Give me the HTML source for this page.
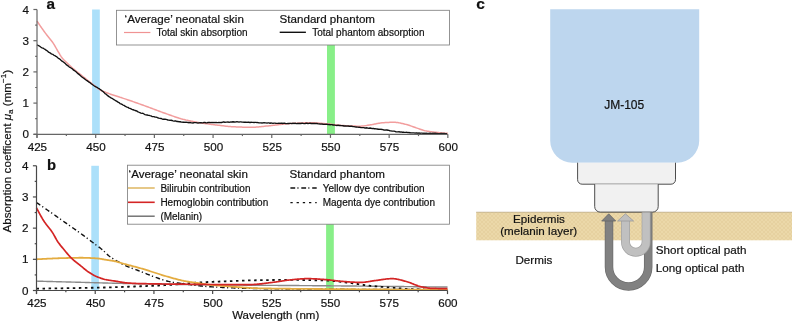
<!DOCTYPE html>
<html><head><meta charset="utf-8"><style>
html,body{margin:0;padding:0;background:#fff;width:793px;height:322px;overflow:hidden}
svg{display:block;filter:blur(0.3px)}
text{font-family:"Liberation Sans",sans-serif;stroke:#111;stroke-width:0.2px}
</style></head><body>
<svg width="793" height="322" viewBox="0 0 793 322">
<defs>
<pattern id="skin" width="4" height="4" patternUnits="userSpaceOnUse">
<rect width="4" height="4" fill="#ebd8a9"/>
<path d="M0,0 L4,4 M4,0 L0,4" stroke="#e2cd9b" stroke-width="0.6"/>
</pattern>
</defs>
<rect x="92.10" y="9.50" width="7.7" height="124.80" fill="#ace0fa"/>
<rect x="327.00" y="20.00" width="7.9" height="114.30" fill="#88ef88"/>
<path d="M37.00,21.04 L37.80,22.27 L38.60,23.48 L39.40,24.67 L40.20,25.85 L41.00,27.01 L41.80,28.16 L42.60,29.30 L43.40,30.42 L44.20,31.53 L45.00,32.61 L45.80,33.66 L46.60,34.68 L47.40,35.68 L48.20,36.67 L49.00,37.67 L49.80,38.68 L50.60,39.71 L51.40,40.73 L52.20,41.77 L53.00,42.88 L53.80,44.07 L54.60,45.39 L55.40,46.79 L56.20,48.24 L57.00,49.68 L57.80,51.07 L58.60,52.40 L59.40,53.74 L60.20,55.06 L61.00,56.31 L61.80,57.45 L62.60,58.44 L63.40,59.35 L64.20,60.19 L65.00,60.98 L65.80,61.74 L66.60,62.47 L67.40,63.21 L68.20,63.95 L69.00,64.70 L69.80,65.47 L70.60,66.23 L71.40,66.98 L72.20,67.72 L73.00,68.45 L73.80,69.16 L74.60,69.86 L75.40,70.53 L76.20,71.18 L77.00,71.81 L77.80,72.43 L78.60,73.05 L79.40,73.66 L80.20,74.28 L81.00,74.91 L81.80,75.56 L82.60,76.21 L83.40,76.87 L84.20,77.53 L85.00,78.19 L85.80,78.85 L86.60,79.50 L87.40,80.14 L88.20,80.77 L89.00,81.40 L89.80,82.02 L90.60,82.64 L91.40,83.26 L92.20,83.88 L93.00,84.50 L93.80,85.12 L94.60,85.76 L95.40,86.43 L96.20,87.11 L97.00,87.78 L97.80,88.42 L98.60,88.99 L99.40,89.48 L100.20,89.91 L101.00,90.32 L101.80,90.71 L102.60,91.07 L103.40,91.41 L104.20,91.74 L105.00,92.06 L105.80,92.37 L106.60,92.67 L107.40,92.97 L108.20,93.27 L109.00,93.58 L109.80,93.88 L110.60,94.17 L111.40,94.45 L112.20,94.73 L113.00,95.01 L113.80,95.28 L114.60,95.54 L115.40,95.80 L116.20,96.06 L117.00,96.32 L117.80,96.58 L118.60,96.83 L119.40,97.08 L120.20,97.34 L121.00,97.59 L121.80,97.84 L122.60,98.10 L123.40,98.35 L124.20,98.61 L125.00,98.87 L125.80,99.13 L126.60,99.40 L127.40,99.67 L128.20,99.95 L129.00,100.22 L129.80,100.50 L130.60,100.78 L131.40,101.05 L132.20,101.33 L133.00,101.61 L133.80,101.89 L134.60,102.17 L135.40,102.45 L136.20,102.74 L137.00,103.02 L137.80,103.30 L138.60,103.59 L139.40,103.87 L140.20,104.16 L141.00,104.44 L141.80,104.73 L142.60,105.02 L143.40,105.31 L144.20,105.59 L145.00,105.88 L145.80,106.17 L146.60,106.46 L147.40,106.75 L148.20,107.05 L149.00,107.35 L149.80,107.64 L150.60,107.94 L151.40,108.24 L152.20,108.54 L153.00,108.85 L153.80,109.15 L154.60,109.45 L155.40,109.75 L156.20,110.05 L157.00,110.35 L157.80,110.65 L158.60,110.95 L159.40,111.25 L160.20,111.54 L161.00,111.84 L161.80,112.13 L162.60,112.42 L163.40,112.70 L164.20,112.99 L165.00,113.27 L165.80,113.55 L166.60,113.84 L167.40,114.12 L168.20,114.41 L169.00,114.70 L169.80,114.99 L170.60,115.27 L171.40,115.56 L172.20,115.84 L173.00,116.13 L173.80,116.41 L174.60,116.68 L175.40,116.96 L176.20,117.23 L177.00,117.49 L177.80,117.75 L178.60,118.00 L179.40,118.25 L180.20,118.48 L181.00,118.72 L181.80,118.94 L182.60,119.15 L183.40,119.36 L184.20,119.56 L185.00,119.75 L185.80,119.95 L186.60,120.13 L187.40,120.32 L188.20,120.50 L189.00,120.68 L189.80,120.85 L190.60,121.02 L191.40,121.18 L192.20,121.35 L193.00,121.51 L193.80,121.66 L194.60,121.82 L195.40,121.97 L196.20,122.11 L197.00,122.26 L197.80,122.40 L198.60,122.53 L199.40,122.67 L200.20,122.80 L201.00,122.93 L201.80,123.06 L202.60,123.18 L203.40,123.30 L204.20,123.42 L205.00,123.54 L205.80,123.66 L206.60,123.77 L207.40,123.88 L208.20,123.99 L209.00,124.10 L209.80,124.20 L210.60,124.31 L211.40,124.41 L212.20,124.51 L213.00,124.61 L213.80,124.71 L214.60,124.81 L215.40,124.90 L216.20,125.00 L217.00,125.09 L217.80,125.18 L218.60,125.28 L219.40,125.37 L220.20,125.47 L221.00,125.57 L221.80,125.66 L222.60,125.76 L223.40,125.85 L224.20,125.95 L225.00,126.04 L225.80,126.13 L226.60,126.21 L227.40,126.30 L228.20,126.38 L229.00,126.45 L229.80,126.52 L230.60,126.59 L231.40,126.65 L232.20,126.70 L233.00,126.75 L233.80,126.79 L234.60,126.83 L235.40,126.86 L236.20,126.90 L237.00,126.93 L237.80,126.96 L238.60,126.99 L239.40,127.03 L240.20,127.05 L241.00,127.08 L241.80,127.11 L242.60,127.14 L243.40,127.16 L244.20,127.18 L245.00,127.20 L245.80,127.22 L246.60,127.24 L247.40,127.25 L248.20,127.26 L249.00,127.27 L249.80,127.28 L250.60,127.28 L251.40,127.28 L252.20,127.27 L253.00,127.25 L253.80,127.22 L254.60,127.18 L255.40,127.14 L256.20,127.08 L257.00,127.02 L257.80,126.96 L258.60,126.88 L259.40,126.81 L260.20,126.73 L261.00,126.64 L261.80,126.56 L262.60,126.47 L263.40,126.38 L264.20,126.30 L265.00,126.21 L265.80,126.12 L266.60,126.04 L267.40,125.96 L268.20,125.88 L269.00,125.80 L269.80,125.72 L270.60,125.64 L271.40,125.55 L272.20,125.46 L273.00,125.37 L273.80,125.28 L274.60,125.18 L275.40,125.09 L276.20,124.99 L277.00,124.90 L277.80,124.80 L278.60,124.71 L279.40,124.61 L280.20,124.52 L281.00,124.43 L281.80,124.34 L282.60,124.26 L283.40,124.17 L284.20,124.09 L285.00,124.02 L285.80,123.94 L286.60,123.87 L287.40,123.80 L288.20,123.73 L289.00,123.66 L289.80,123.59 L290.60,123.53 L291.40,123.47 L292.20,123.42 L293.00,123.37 L293.80,123.33 L294.60,123.29 L295.40,123.25 L296.20,123.21 L297.00,123.17 L297.80,123.13 L298.60,123.09 L299.40,123.05 L300.20,123.02 L301.00,122.98 L301.80,122.95 L302.60,122.92 L303.40,122.89 L304.20,122.86 L305.00,122.84 L305.80,122.82 L306.60,122.80 L307.40,122.78 L308.20,122.77 L309.00,122.76 L309.80,122.76 L310.60,122.76 L311.40,122.76 L312.20,122.78 L313.00,122.80 L313.80,122.82 L314.60,122.86 L315.40,122.90 L316.20,122.95 L317.00,123.00 L317.80,123.05 L318.60,123.11 L319.40,123.17 L320.20,123.24 L321.00,123.30 L321.80,123.37 L322.60,123.43 L323.40,123.50 L324.20,123.57 L325.00,123.63 L325.80,123.69 L326.60,123.76 L327.40,123.83 L328.20,123.91 L329.00,124.00 L329.80,124.09 L330.60,124.18 L331.40,124.28 L332.20,124.38 L333.00,124.48 L333.80,124.58 L334.60,124.68 L335.40,124.78 L336.20,124.88 L337.00,124.98 L337.80,125.07 L338.60,125.16 L339.40,125.24 L340.20,125.32 L341.00,125.39 L341.80,125.46 L342.60,125.52 L343.40,125.57 L344.20,125.61 L345.00,125.65 L345.80,125.70 L346.60,125.74 L347.40,125.78 L348.20,125.82 L349.00,125.87 L349.80,125.90 L350.60,125.94 L351.40,125.98 L352.20,126.01 L353.00,126.04 L353.80,126.07 L354.60,126.10 L355.40,126.12 L356.20,126.14 L357.00,126.16 L357.80,126.17 L358.60,126.18 L359.40,126.19 L360.20,126.19 L361.00,126.17 L361.80,126.12 L362.60,126.06 L363.40,125.97 L364.20,125.87 L365.00,125.75 L365.80,125.62 L366.60,125.49 L367.40,125.34 L368.20,125.20 L369.00,125.05 L369.80,124.91 L370.60,124.78 L371.40,124.65 L372.20,124.53 L373.00,124.39 L373.80,124.24 L374.60,124.09 L375.40,123.93 L376.20,123.77 L377.00,123.61 L377.80,123.46 L378.60,123.31 L379.40,123.17 L380.20,123.04 L381.00,122.93 L381.80,122.84 L382.60,122.77 L383.40,122.72 L384.20,122.67 L385.00,122.62 L385.80,122.57 L386.60,122.52 L387.40,122.48 L388.20,122.44 L389.00,122.40 L389.80,122.37 L390.60,122.35 L391.40,122.32 L392.20,122.31 L393.00,122.29 L393.80,122.29 L394.60,122.29 L395.40,122.33 L396.20,122.40 L397.00,122.49 L397.80,122.60 L398.60,122.73 L399.40,122.88 L400.20,123.05 L401.00,123.22 L401.80,123.41 L402.60,123.60 L403.40,123.79 L404.20,123.99 L405.00,124.18 L405.80,124.37 L406.60,124.57 L407.40,124.79 L408.20,125.03 L409.00,125.29 L409.80,125.56 L410.60,125.84 L411.40,126.12 L412.20,126.41 L413.00,126.71 L413.80,127.00 L414.60,127.29 L415.40,127.57 L416.20,127.84 L417.00,128.11 L417.80,128.37 L418.60,128.65 L419.40,128.93 L420.20,129.22 L421.00,129.50 L421.80,129.77 L422.60,130.03 L423.40,130.28 L424.20,130.50 L425.00,130.70 L425.80,130.87 L426.60,131.02 L427.40,131.16 L428.20,131.29 L429.00,131.42 L429.80,131.54 L430.60,131.65 L431.40,131.75 L432.20,131.86 L433.00,131.95 L433.80,132.05 L434.60,132.14 L435.40,132.23 L436.20,132.31 L437.00,132.40 L437.80,132.48 L438.60,132.57 L439.40,132.65 L440.20,132.73 L441.00,132.80 L441.80,132.88 L442.60,132.95 L443.40,133.02 L444.20,133.09 L445.00,133.16 L445.80,133.22 L446.60,133.28 L447.40,133.33 L447.85,133.36" fill="none" stroke="#f29d9d" stroke-width="1.5"/>
<path d="M37.00,44.78 L38.00,45.41 L39.00,45.77 L40.00,46.46 L41.00,47.25 L42.00,47.85 L43.00,48.08 L44.00,48.76 L45.00,49.35 L46.00,50.23 L47.00,50.71 L48.00,51.60 L49.00,52.36 L50.00,52.81 L51.00,53.61 L52.00,54.14 L53.00,54.42 L54.00,55.26 L55.00,55.70 L56.00,56.40 L57.00,57.02 L58.00,57.96 L59.00,58.60 L60.00,59.25 L61.00,60.24 L62.00,61.15 L63.00,61.70 L64.00,62.44 L65.00,63.32 L66.00,64.38 L67.00,65.19 L68.00,65.83 L69.00,66.72 L70.00,67.46 L71.00,67.98 L72.00,68.59 L73.00,69.64 L74.00,70.36 L75.00,71.06 L76.00,71.81 L77.00,72.74 L78.00,73.63 L79.00,74.38 L80.00,75.23 L81.00,76.14 L82.00,77.14 L83.00,77.79 L84.00,78.41 L85.00,79.17 L86.00,80.01 L87.00,80.63 L88.00,81.35 L89.00,82.22 L90.00,82.71 L91.00,83.60 L92.00,84.21 L93.00,85.05 L94.00,85.72 L95.00,86.31 L96.00,86.90 L97.00,87.31 L98.00,88.05 L99.00,88.52 L100.00,89.34 L101.00,89.97 L102.00,90.83 L103.00,91.47 L104.00,92.41 L105.00,93.62 L106.00,94.09 L107.00,95.13 L108.00,95.87 L109.00,96.62 L110.00,97.19 L111.00,97.92 L112.00,98.31 L113.00,98.95 L114.00,99.63 L115.00,100.22 L116.00,100.80 L117.00,101.40 L118.00,102.19 L119.00,102.58 L120.00,103.53 L121.00,103.95 L122.00,104.43 L123.00,105.05 L124.00,105.35 L125.00,106.19 L126.00,106.65 L127.00,107.08 L128.00,107.44 L129.00,108.08 L130.00,108.48 L131.00,108.88 L132.00,109.44 L133.00,109.73 L134.00,110.01 L135.00,110.52 L136.00,110.75 L137.00,111.15 L138.00,111.82 L139.00,112.25 L140.00,112.74 L141.00,113.06 L142.00,113.29 L143.00,113.44 L144.00,113.99 L145.00,114.55 L146.00,114.81 L147.00,114.97 L148.00,115.25 L149.00,115.41 L150.00,115.67 L151.00,115.88 L152.00,116.55 L153.00,116.68 L154.00,116.69 L155.00,117.07 L156.00,117.14 L157.00,117.47 L158.00,117.98 L159.00,118.19 L160.00,118.34 L161.00,118.47 L162.00,118.88 L163.00,119.25 L164.00,119.20 L165.00,119.21 L166.00,119.39 L167.00,119.58 L168.00,120.19 L169.00,120.15 L170.00,120.46 L171.00,120.28 L172.00,120.48 L173.00,120.85 L174.00,121.10 L175.00,120.97 L176.00,120.99 L177.00,121.54 L178.00,121.40 L179.00,121.77 L180.00,121.61 L181.00,122.00 L182.00,122.19 L183.00,122.22 L184.00,122.12 L185.00,122.39 L186.00,122.17 L187.00,122.34 L188.00,122.46 L189.00,122.76 L190.00,122.45 L191.00,122.87 L192.00,122.87 L193.00,122.98 L194.00,122.69 L195.00,122.61 L196.00,122.62 L197.00,122.91 L198.00,122.98 L199.00,122.84 L200.00,122.72 L201.00,122.61 L202.00,122.87 L203.00,122.88 L204.00,122.47 L205.00,122.52 L206.00,122.81 L207.00,122.81 L208.00,122.52 L209.00,122.49 L210.00,122.54 L211.00,122.58 L212.00,122.34 L213.00,122.69 L214.00,122.52 L215.00,122.62 L216.00,122.33 L217.00,122.68 L218.00,122.55 L219.00,122.32 L220.00,122.59 L221.00,122.44 L222.00,122.47 L223.00,122.04 L224.00,122.01 L225.00,122.32 L226.00,122.06 L227.00,122.13 L228.00,121.92 L229.00,122.30 L230.00,122.03 L231.00,122.17 L232.00,121.78 L233.00,121.97 L234.00,121.76 L235.00,122.17 L236.00,121.96 L237.00,121.78 L238.00,121.80 L239.00,122.06 L240.00,121.85 L241.00,121.93 L242.00,122.09 L243.00,122.15 L244.00,122.23 L245.00,122.29 L246.00,122.20 L247.00,122.36 L248.00,122.17 L249.00,122.26 L250.00,122.56 L251.00,122.27 L252.00,122.33 L253.00,122.38 L254.00,122.53 L255.00,122.33 L256.00,122.39 L257.00,122.64 L258.00,122.53 L259.00,122.83 L260.00,122.93 L261.00,122.86 L262.00,122.96 L263.00,122.85 L264.00,122.71 L265.00,122.94 L266.00,122.94 L267.00,123.08 L268.00,122.88 L269.00,122.95 L270.00,123.27 L271.00,123.02 L272.00,123.12 L273.00,123.41 L274.00,123.10 L275.00,123.06 L276.00,123.36 L277.00,123.32 L278.00,123.36 L279.00,123.09 L280.00,123.30 L281.00,123.10 L282.00,123.24 L283.00,123.47 L284.00,123.16 L285.00,123.28 L286.00,123.62 L287.00,123.62 L288.00,123.37 L289.00,123.50 L290.00,123.45 L291.00,123.36 L292.00,123.56 L293.00,123.22 L294.00,123.54 L295.00,123.15 L296.00,123.56 L297.00,123.47 L298.00,123.35 L299.00,123.47 L300.00,123.36 L301.00,123.52 L302.00,123.19 L303.00,123.38 L304.00,123.57 L305.00,123.59 L306.00,123.24 L307.00,123.26 L308.00,123.58 L309.00,123.30 L310.00,123.16 L311.00,123.49 L312.00,123.35 L313.00,123.53 L314.00,123.44 L315.00,123.49 L316.00,123.50 L317.00,123.49 L318.00,123.86 L319.00,123.82 L320.00,123.96 L321.00,124.09 L322.00,123.85 L323.00,124.28 L324.00,124.34 L325.00,124.25 L326.00,124.38 L327.00,124.24 L328.00,124.66 L329.00,124.46 L330.00,124.73 L331.00,124.61 L332.00,124.66 L333.00,125.01 L334.00,125.03 L335.00,125.20 L336.00,125.33 L337.00,125.51 L338.00,125.14 L339.00,125.49 L340.00,125.54 L341.00,125.66 L342.00,125.69 L343.00,125.78 L344.00,126.02 L345.00,125.89 L346.00,126.02 L347.00,126.19 L348.00,125.97 L349.00,126.23 L350.00,126.16 L351.00,126.26 L352.00,126.29 L353.00,126.49 L354.00,126.59 L355.00,126.84 L356.00,126.97 L357.00,127.20 L358.00,127.13 L359.00,127.44 L360.00,127.29 L361.00,127.56 L362.00,127.56 L363.00,127.68 L364.00,127.59 L365.00,128.01 L366.00,128.01 L367.00,127.78 L368.00,128.07 L369.00,128.38 L370.00,128.00 L371.00,128.22 L372.00,128.54 L373.00,128.29 L374.00,128.74 L375.00,128.76 L376.00,128.94 L377.00,128.96 L378.00,129.26 L379.00,129.08 L380.00,129.31 L381.00,129.17 L382.00,129.54 L383.00,129.60 L384.00,130.02 L385.00,130.15 L386.00,129.91 L387.00,130.02 L388.00,130.23 L389.00,130.43 L390.00,130.86 L391.00,130.93 L392.00,131.08 L393.00,131.18 L394.00,131.08 L395.00,131.39 L396.00,131.80 L397.00,131.82 L398.00,131.80 L399.00,131.72 L400.00,132.18 L401.00,132.02 L402.00,132.21 L403.00,132.08 L404.00,132.22 L405.00,132.31 L406.00,132.40 L407.00,132.29 L408.00,132.68 L409.00,132.50 L410.00,132.78 L411.00,132.85 L412.00,132.95 L413.00,132.80 L414.00,132.84 L415.00,133.12 L416.00,132.97 L417.00,132.88 L418.00,133.28 L419.00,132.86 L420.00,133.32 L421.00,133.05 L422.00,133.12 L423.00,133.44 L424.00,133.19 L425.00,133.36 L426.00,133.22 L427.00,133.50 L428.00,133.42 L429.00,133.32 L430.00,133.14 L431.00,133.30 L432.00,133.38 L433.00,133.29 L434.00,133.43 L435.00,133.28 L436.00,133.44 L437.00,133.47 L438.00,133.55 L439.00,133.60 L440.00,133.60 L441.00,133.45 L442.00,133.48 L443.00,133.69 L444.00,133.44 L445.00,133.63 L446.00,133.76 L447.00,133.73" fill="none" stroke="#111" stroke-width="1.35" stroke-linejoin="round"/>
<g stroke="#666" stroke-width="1.2"><line x1="37.00" y1="9.50" x2="37.00" y2="137.80"/>
<line x1="33.50" y1="134.30" x2="447.85" y2="134.30"/>
<line x1="33.40" y1="134.30" x2="37.00" y2="134.30"/>
<line x1="35.20" y1="118.70" x2="37.00" y2="118.70"/>
<line x1="33.40" y1="103.10" x2="37.00" y2="103.10"/>
<line x1="35.20" y1="87.50" x2="37.00" y2="87.50"/>
<line x1="33.40" y1="71.90" x2="37.00" y2="71.90"/>
<line x1="35.20" y1="56.30" x2="37.00" y2="56.30"/>
<line x1="33.40" y1="40.70" x2="37.00" y2="40.70"/>
<line x1="35.20" y1="25.10" x2="37.00" y2="25.10"/>
<line x1="33.40" y1="9.50" x2="37.00" y2="9.50"/>
<line x1="37.00" y1="134.30" x2="37.00" y2="137.90"/>
<line x1="66.35" y1="134.30" x2="66.35" y2="136.10"/>
<line x1="95.69" y1="134.30" x2="95.69" y2="137.90"/>
<line x1="125.04" y1="134.30" x2="125.04" y2="136.10"/>
<line x1="154.38" y1="134.30" x2="154.38" y2="137.90"/>
<line x1="183.73" y1="134.30" x2="183.73" y2="136.10"/>
<line x1="213.08" y1="134.30" x2="213.08" y2="137.90"/>
<line x1="242.42" y1="134.30" x2="242.42" y2="136.10"/>
<line x1="271.77" y1="134.30" x2="271.77" y2="137.90"/>
<line x1="301.12" y1="134.30" x2="301.12" y2="136.10"/>
<line x1="330.46" y1="134.30" x2="330.46" y2="137.90"/>
<line x1="359.81" y1="134.30" x2="359.81" y2="136.10"/>
<line x1="389.16" y1="134.30" x2="389.16" y2="137.90"/>
<line x1="418.50" y1="134.30" x2="418.50" y2="136.10"/>
<line x1="447.85" y1="134.30" x2="447.85" y2="137.90"/></g>
<rect x="91.30" y="165.78" width="7.6" height="124.72" fill="#ace0fa"/>
<rect x="326.10" y="165.78" width="7.7" height="124.72" fill="#88ef88"/>
<path d="M36.50,281.15 L37.30,281.17 L38.10,281.19 L38.90,281.21 L39.70,281.23 L40.50,281.25 L41.30,281.28 L42.10,281.30 L42.90,281.32 L43.70,281.34 L44.50,281.36 L45.30,281.38 L46.10,281.40 L46.90,281.43 L47.70,281.45 L48.50,281.47 L49.30,281.49 L50.11,281.51 L50.91,281.53 L51.71,281.55 L52.51,281.57 L53.31,281.60 L54.11,281.62 L54.91,281.64 L55.71,281.66 L56.51,281.68 L57.31,281.70 L58.11,281.72 L58.91,281.74 L59.71,281.77 L60.51,281.79 L61.31,281.81 L62.11,281.83 L62.91,281.85 L63.71,281.87 L64.51,281.89 L65.31,281.91 L66.11,281.93 L66.91,281.96 L67.71,281.98 L68.51,282.00 L69.31,282.02 L70.11,282.04 L70.91,282.06 L71.71,282.08 L72.51,282.10 L73.31,282.12 L74.11,282.14 L74.91,282.17 L75.72,282.19 L76.52,282.21 L77.32,282.23 L78.12,282.25 L78.92,282.27 L79.72,282.29 L80.52,282.32 L81.32,282.34 L82.12,282.36 L82.92,282.38 L83.72,282.40 L84.52,282.42 L85.32,282.45 L86.12,282.47 L86.92,282.49 L87.72,282.51 L88.52,282.53 L89.32,282.56 L90.12,282.58 L90.92,282.60 L91.72,282.62 L92.52,282.64 L93.32,282.67 L94.12,282.69 L94.92,282.71 L95.72,282.73 L96.52,282.75 L97.32,282.78 L98.12,282.80 L98.92,282.82 L99.72,282.84 L100.52,282.86 L101.32,282.89 L102.13,282.91 L102.93,282.93 L103.73,282.95 L104.53,282.97 L105.33,282.99 L106.13,283.01 L106.93,283.03 L107.73,283.06 L108.53,283.08 L109.33,283.10 L110.13,283.12 L110.93,283.14 L111.73,283.16 L112.53,283.18 L113.33,283.20 L114.13,283.22 L114.93,283.24 L115.73,283.26 L116.53,283.28 L117.33,283.30 L118.13,283.32 L118.93,283.34 L119.73,283.36 L120.53,283.37 L121.33,283.39 L122.13,283.41 L122.93,283.43 L123.73,283.45 L124.53,283.47 L125.33,283.48 L126.13,283.50 L126.93,283.52 L127.73,283.54 L128.54,283.55 L129.34,283.57 L130.14,283.59 L130.94,283.60 L131.74,283.62 L132.54,283.64 L133.34,283.65 L134.14,283.67 L134.94,283.68 L135.74,283.70 L136.54,283.71 L137.34,283.73 L138.14,283.74 L138.94,283.76 L139.74,283.77 L140.54,283.79 L141.34,283.80 L142.14,283.82 L142.94,283.84 L143.74,283.85 L144.54,283.86 L145.34,283.88 L146.14,283.89 L146.94,283.91 L147.74,283.92 L148.54,283.94 L149.34,283.95 L150.14,283.97 L150.94,283.98 L151.74,284.00 L152.54,284.01 L153.34,284.03 L154.15,284.04 L154.95,284.05 L155.75,284.07 L156.55,284.08 L157.35,284.10 L158.15,284.11 L158.95,284.12 L159.75,284.14 L160.55,284.15 L161.35,284.16 L162.15,284.18 L162.95,284.19 L163.75,284.21 L164.55,284.22 L165.35,284.23 L166.15,284.25 L166.95,284.26 L167.75,284.27 L168.55,284.29 L169.35,284.30 L170.15,284.31 L170.95,284.32 L171.75,284.34 L172.55,284.35 L173.35,284.36 L174.15,284.37 L174.95,284.39 L175.75,284.40 L176.55,284.41 L177.35,284.42 L178.15,284.44 L178.95,284.45 L179.75,284.46 L180.56,284.47 L181.36,284.48 L182.16,284.50 L182.96,284.51 L183.76,284.52 L184.56,284.53 L185.36,284.54 L186.16,284.55 L186.96,284.57 L187.76,284.58 L188.56,284.59 L189.36,284.60 L190.16,284.61 L190.96,284.62 L191.76,284.63 L192.56,284.64 L193.36,284.65 L194.16,284.66 L194.96,284.68 L195.76,284.69 L196.56,284.70 L197.36,284.71 L198.16,284.72 L198.96,284.73 L199.76,284.74 L200.56,284.75 L201.36,284.76 L202.16,284.77 L202.96,284.78 L203.76,284.79 L204.56,284.80 L205.36,284.81 L206.17,284.81 L206.97,284.82 L207.77,284.83 L208.57,284.84 L209.37,284.85 L210.17,284.86 L210.97,284.87 L211.77,284.88 L212.57,284.89 L213.37,284.90 L214.17,284.90 L214.97,284.91 L215.77,284.92 L216.57,284.93 L217.37,284.94 L218.17,284.95 L218.97,284.95 L219.77,284.96 L220.57,284.97 L221.37,284.98 L222.17,284.99 L222.97,284.99 L223.77,285.00 L224.57,285.01 L225.37,285.02 L226.17,285.02 L226.97,285.03 L227.77,285.04 L228.57,285.05 L229.37,285.05 L230.17,285.06 L230.97,285.07 L231.77,285.07 L232.58,285.08 L233.38,285.09 L234.18,285.10 L234.98,285.10 L235.78,285.11 L236.58,285.12 L237.38,285.12 L238.18,285.13 L238.98,285.14 L239.78,285.14 L240.58,285.15 L241.38,285.16 L242.18,285.16 L242.98,285.17 L243.78,285.18 L244.58,285.18 L245.38,285.19 L246.18,285.19 L246.98,285.20 L247.78,285.21 L248.58,285.21 L249.38,285.22 L250.18,285.23 L250.98,285.23 L251.78,285.24 L252.58,285.24 L253.38,285.25 L254.18,285.26 L254.98,285.26 L255.78,285.27 L256.58,285.27 L257.38,285.28 L258.18,285.29 L258.99,285.29 L259.79,285.30 L260.59,285.30 L261.39,285.31 L262.19,285.31 L262.99,285.32 L263.79,285.33 L264.59,285.33 L265.39,285.34 L266.19,285.34 L266.99,285.35 L267.79,285.35 L268.59,285.36 L269.39,285.37 L270.19,285.37 L270.99,285.38 L271.79,285.38 L272.59,285.39 L273.39,285.39 L274.19,285.40 L274.99,285.41 L275.79,285.41 L276.59,285.42 L277.39,285.42 L278.19,285.43 L278.99,285.43 L279.79,285.44 L280.59,285.44 L281.39,285.45 L282.19,285.45 L282.99,285.46 L283.79,285.47 L284.60,285.47 L285.40,285.48 L286.20,285.48 L287.00,285.49 L287.80,285.49 L288.60,285.50 L289.40,285.51 L290.20,285.51 L291.00,285.52 L291.80,285.52 L292.60,285.53 L293.40,285.53 L294.20,285.54 L295.00,285.54 L295.80,285.55 L296.60,285.56 L297.40,285.56 L298.20,285.57 L299.00,285.57 L299.80,285.58 L300.60,285.58 L301.40,285.59 L302.20,285.60 L303.00,285.60 L303.80,285.61 L304.60,285.61 L305.40,285.62 L306.20,285.63 L307.00,285.63 L307.80,285.64 L308.60,285.64 L309.40,285.65 L310.20,285.66 L311.01,285.66 L311.81,285.67 L312.61,285.68 L313.41,285.68 L314.21,285.69 L315.01,285.69 L315.81,285.70 L316.61,285.71 L317.41,285.71 L318.21,285.72 L319.01,285.73 L319.81,285.73 L320.61,285.74 L321.41,285.75 L322.21,285.75 L323.01,285.76 L323.81,285.77 L324.61,285.77 L325.41,285.78 L326.21,285.79 L327.01,285.80 L327.81,285.80 L328.61,285.81 L329.41,285.82 L330.21,285.82 L331.01,285.83 L331.81,285.84 L332.61,285.85 L333.41,285.85 L334.21,285.86 L335.01,285.87 L335.81,285.88 L336.62,285.88 L337.42,285.89 L338.22,285.90 L339.02,285.91 L339.82,285.91 L340.62,285.92 L341.42,285.93 L342.22,285.94 L343.02,285.94 L343.82,285.95 L344.62,285.96 L345.42,285.97 L346.22,285.97 L347.02,285.98 L347.82,285.99 L348.62,286.00 L349.42,286.00 L350.22,286.01 L351.02,286.02 L351.82,286.03 L352.62,286.04 L353.42,286.04 L354.22,286.05 L355.02,286.06 L355.82,286.07 L356.62,286.07 L357.42,286.08 L358.22,286.09 L359.02,286.10 L359.82,286.11 L360.62,286.11 L361.42,286.12 L362.22,286.13 L363.03,286.14 L363.83,286.15 L364.63,286.15 L365.43,286.16 L366.23,286.17 L367.03,286.18 L367.83,286.19 L368.63,286.19 L369.43,286.20 L370.23,286.21 L371.03,286.22 L371.83,286.23 L372.63,286.24 L373.43,286.24 L374.23,286.25 L375.03,286.26 L375.83,286.27 L376.63,286.28 L377.43,286.29 L378.23,286.29 L379.03,286.30 L379.83,286.31 L380.63,286.32 L381.43,286.33 L382.23,286.34 L383.03,286.34 L383.83,286.35 L384.63,286.36 L385.43,286.37 L386.23,286.38 L387.03,286.39 L387.83,286.39 L388.63,286.40 L389.44,286.41 L390.24,286.42 L391.04,286.43 L391.84,286.44 L392.64,286.45 L393.44,286.45 L394.24,286.46 L395.04,286.47 L395.84,286.48 L396.64,286.49 L397.44,286.50 L398.24,286.51 L399.04,286.52 L399.84,286.52 L400.64,286.53 L401.44,286.54 L402.24,286.55 L403.04,286.56 L403.84,286.57 L404.64,286.58 L405.44,286.59 L406.24,286.59 L407.04,286.60 L407.84,286.61 L408.64,286.62 L409.44,286.63 L410.24,286.64 L411.04,286.65 L411.84,286.66 L412.64,286.67 L413.44,286.68 L414.24,286.68 L415.05,286.69 L415.85,286.70 L416.65,286.71 L417.45,286.72 L418.25,286.73 L419.05,286.74 L419.85,286.75 L420.65,286.76 L421.45,286.77 L422.25,286.77 L423.05,286.78 L423.85,286.79 L424.65,286.80 L425.45,286.81 L426.25,286.82 L427.05,286.83 L427.85,286.84 L428.65,286.85 L429.45,286.86 L430.25,286.87 L431.05,286.88 L431.85,286.89 L432.65,286.89 L433.45,286.90 L434.25,286.91 L435.05,286.92 L435.85,286.93 L436.65,286.94 L437.45,286.95 L438.25,286.96 L439.05,286.97 L439.85,286.98 L440.65,286.99 L441.46,287.00 L442.26,287.01 L443.06,287.02 L443.86,287.03 L444.66,287.04 L445.46,287.05 L446.26,287.06 L447.06,287.06 L447.50,287.07" fill="none" stroke="#8a8a8a" stroke-width="1.4"/>
<path d="M36.50,288.63 L37.30,288.62 L38.10,288.61 L38.90,288.60 L39.70,288.59 L40.50,288.58 L41.30,288.57 L42.10,288.56 L42.90,288.55 L43.70,288.54 L44.50,288.53 L45.30,288.52 L46.10,288.51 L46.90,288.50 L47.70,288.49 L48.50,288.48 L49.30,288.47 L50.11,288.46 L50.91,288.45 L51.71,288.44 L52.51,288.43 L53.31,288.42 L54.11,288.40 L54.91,288.39 L55.71,288.38 L56.51,288.37 L57.31,288.36 L58.11,288.34 L58.91,288.33 L59.71,288.32 L60.51,288.31 L61.31,288.29 L62.11,288.28 L62.91,288.27 L63.71,288.26 L64.51,288.24 L65.31,288.23 L66.11,288.22 L66.91,288.20 L67.71,288.19 L68.51,288.18 L69.31,288.16 L70.11,288.15 L70.91,288.14 L71.71,288.12 L72.51,288.11 L73.31,288.10 L74.11,288.08 L74.91,288.07 L75.72,288.05 L76.52,288.04 L77.32,288.03 L78.12,288.01 L78.92,288.00 L79.72,287.98 L80.52,287.97 L81.32,287.95 L82.12,287.94 L82.92,287.92 L83.72,287.91 L84.52,287.90 L85.32,287.88 L86.12,287.87 L86.92,287.85 L87.72,287.84 L88.52,287.82 L89.32,287.81 L90.12,287.79 L90.92,287.78 L91.72,287.76 L92.52,287.75 L93.32,287.73 L94.12,287.71 L94.92,287.70 L95.72,287.68 L96.52,287.67 L97.32,287.65 L98.12,287.64 L98.92,287.62 L99.72,287.60 L100.52,287.59 L101.32,287.57 L102.13,287.55 L102.93,287.54 L103.73,287.52 L104.53,287.50 L105.33,287.48 L106.13,287.46 L106.93,287.44 L107.73,287.42 L108.53,287.40 L109.33,287.38 L110.13,287.36 L110.93,287.34 L111.73,287.32 L112.53,287.29 L113.33,287.27 L114.13,287.24 L114.93,287.22 L115.73,287.19 L116.53,287.17 L117.33,287.14 L118.13,287.12 L118.93,287.09 L119.73,287.06 L120.53,287.03 L121.33,287.01 L122.13,286.98 L122.93,286.95 L123.73,286.92 L124.53,286.89 L125.33,286.86 L126.13,286.83 L126.93,286.80 L127.73,286.77 L128.54,286.74 L129.34,286.71 L130.14,286.68 L130.94,286.65 L131.74,286.61 L132.54,286.58 L133.34,286.55 L134.14,286.52 L134.94,286.49 L135.74,286.46 L136.54,286.42 L137.34,286.39 L138.14,286.36 L138.94,286.33 L139.74,286.29 L140.54,286.26 L141.34,286.23 L142.14,286.20 L142.94,286.17 L143.74,286.13 L144.54,286.10 L145.34,286.07 L146.14,286.04 L146.94,286.00 L147.74,285.97 L148.54,285.94 L149.34,285.90 L150.14,285.87 L150.94,285.84 L151.74,285.80 L152.54,285.77 L153.34,285.73 L154.15,285.70 L154.95,285.66 L155.75,285.63 L156.55,285.59 L157.35,285.55 L158.15,285.52 L158.95,285.48 L159.75,285.44 L160.55,285.40 L161.35,285.36 L162.15,285.32 L162.95,285.28 L163.75,285.24 L164.55,285.20 L165.35,285.16 L166.15,285.11 L166.95,285.07 L167.75,285.03 L168.55,284.98 L169.35,284.93 L170.15,284.89 L170.95,284.84 L171.75,284.79 L172.55,284.73 L173.35,284.67 L174.15,284.61 L174.95,284.55 L175.75,284.49 L176.55,284.42 L177.35,284.36 L178.15,284.29 L178.95,284.22 L179.75,284.14 L180.56,284.07 L181.36,284.00 L182.16,283.92 L182.96,283.85 L183.76,283.77 L184.56,283.70 L185.36,283.62 L186.16,283.55 L186.96,283.47 L187.76,283.40 L188.56,283.32 L189.36,283.25 L190.16,283.17 L190.96,283.10 L191.76,283.03 L192.56,282.96 L193.36,282.90 L194.16,282.83 L194.96,282.77 L195.76,282.70 L196.56,282.64 L197.36,282.59 L198.16,282.53 L198.96,282.48 L199.76,282.43 L200.56,282.39 L201.36,282.34 L202.16,282.30 L202.96,282.26 L203.76,282.21 L204.56,282.17 L205.36,282.13 L206.17,282.09 L206.97,282.05 L207.77,282.02 L208.57,281.98 L209.37,281.94 L210.17,281.91 L210.97,281.87 L211.77,281.84 L212.57,281.80 L213.37,281.77 L214.17,281.73 L214.97,281.70 L215.77,281.67 L216.57,281.64 L217.37,281.60 L218.17,281.57 L218.97,281.54 L219.77,281.51 L220.57,281.48 L221.37,281.45 L222.17,281.42 L222.97,281.39 L223.77,281.36 L224.57,281.33 L225.37,281.30 L226.17,281.27 L226.97,281.24 L227.77,281.21 L228.57,281.18 L229.37,281.15 L230.17,281.12 L230.97,281.09 L231.77,281.06 L232.58,281.03 L233.38,281.00 L234.18,280.97 L234.98,280.94 L235.78,280.91 L236.58,280.88 L237.38,280.85 L238.18,280.82 L238.98,280.79 L239.78,280.76 L240.58,280.73 L241.38,280.70 L242.18,280.67 L242.98,280.64 L243.78,280.61 L244.58,280.58 L245.38,280.56 L246.18,280.53 L246.98,280.50 L247.78,280.48 L248.58,280.45 L249.38,280.43 L250.18,280.40 L250.98,280.38 L251.78,280.36 L252.58,280.34 L253.38,280.32 L254.18,280.30 L254.98,280.28 L255.78,280.26 L256.58,280.24 L257.38,280.23 L258.18,280.21 L258.99,280.20 L259.79,280.19 L260.59,280.18 L261.39,280.16 L262.19,280.15 L262.99,280.14 L263.79,280.13 L264.59,280.11 L265.39,280.10 L266.19,280.09 L266.99,280.08 L267.79,280.06 L268.59,280.05 L269.39,280.04 L270.19,280.03 L270.99,280.02 L271.79,280.01 L272.59,280.00 L273.39,279.99 L274.19,279.98 L274.99,279.97 L275.79,279.96 L276.59,279.96 L277.39,279.95 L278.19,279.94 L278.99,279.93 L279.79,279.93 L280.59,279.92 L281.39,279.92 L282.19,279.91 L282.99,279.91 L283.79,279.91 L284.60,279.90 L285.40,279.90 L286.20,279.90 L287.00,279.90 L287.80,279.90 L288.60,279.90 L289.40,279.90 L290.20,279.90 L291.00,279.91 L291.80,279.91 L292.60,279.91 L293.40,279.92 L294.20,279.92 L295.00,279.93 L295.80,279.93 L296.60,279.94 L297.40,279.95 L298.20,279.96 L299.00,279.97 L299.80,279.97 L300.60,279.98 L301.40,279.99 L302.20,280.01 L303.00,280.02 L303.80,280.03 L304.60,280.04 L305.40,280.05 L306.20,280.07 L307.00,280.08 L307.80,280.10 L308.60,280.11 L309.40,280.13 L310.20,280.14 L311.01,280.16 L311.81,280.17 L312.61,280.19 L313.41,280.21 L314.21,280.23 L315.01,280.25 L315.81,280.27 L316.61,280.28 L317.41,280.30 L318.21,280.32 L319.01,280.35 L319.81,280.37 L320.61,280.39 L321.41,280.41 L322.21,280.43 L323.01,280.45 L323.81,280.48 L324.61,280.50 L325.41,280.52 L326.21,280.55 L327.01,280.58 L327.81,280.62 L328.61,280.67 L329.41,280.71 L330.21,280.77 L331.01,280.83 L331.81,280.89 L332.61,280.96 L333.41,281.03 L334.21,281.10 L335.01,281.18 L335.81,281.26 L336.62,281.34 L337.42,281.43 L338.22,281.52 L339.02,281.61 L339.82,281.70 L340.62,281.80 L341.42,281.89 L342.22,281.99 L343.02,282.09 L343.82,282.19 L344.62,282.29 L345.42,282.39 L346.22,282.49 L347.02,282.59 L347.82,282.69 L348.62,282.79 L349.42,282.89 L350.22,282.98 L351.02,283.08 L351.82,283.18 L352.62,283.29 L353.42,283.40 L354.22,283.52 L355.02,283.64 L355.82,283.76 L356.62,283.89 L357.42,284.01 L358.22,284.14 L359.02,284.27 L359.82,284.40 L360.62,284.53 L361.42,284.65 L362.22,284.77 L363.03,284.90 L363.83,285.01 L364.63,285.13 L365.43,285.24 L366.23,285.34 L367.03,285.44 L367.83,285.53 L368.63,285.62 L369.43,285.71 L370.23,285.79 L371.03,285.87 L371.83,285.95 L372.63,286.03 L373.43,286.11 L374.23,286.19 L375.03,286.26 L375.83,286.33 L376.63,286.41 L377.43,286.48 L378.23,286.55 L379.03,286.62 L379.83,286.68 L380.63,286.75 L381.43,286.82 L382.23,286.89 L383.03,286.95 L383.83,287.02 L384.63,287.08 L385.43,287.15 L386.23,287.21 L387.03,287.28 L387.83,287.34 L388.63,287.41 L389.44,287.47 L390.24,287.54 L391.04,287.61 L391.84,287.68 L392.64,287.75 L393.44,287.82 L394.24,287.89 L395.04,287.96 L395.84,288.03 L396.64,288.10 L397.44,288.17 L398.24,288.24 L399.04,288.31 L399.84,288.38 L400.64,288.45 L401.44,288.52 L402.24,288.58 L403.04,288.64 L403.84,288.70 L404.64,288.76 L405.44,288.82 L406.24,288.88 L407.04,288.93 L407.84,288.98 L408.64,289.03 L409.44,289.07 L410.24,289.11 L411.04,289.15 L411.84,289.19 L412.64,289.22 L413.44,289.25 L414.24,289.27 L415.05,289.29 L415.85,289.32 L416.65,289.34 L417.45,289.36 L418.25,289.39 L419.05,289.41 L419.85,289.43 L420.65,289.45 L421.45,289.48 L422.25,289.50 L423.05,289.52 L423.85,289.54 L424.65,289.56 L425.45,289.58 L426.25,289.60 L427.05,289.62 L427.85,289.63 L428.65,289.65 L429.45,289.67 L430.25,289.69 L431.05,289.70 L431.85,289.72 L432.65,289.73 L433.45,289.75 L434.25,289.76 L435.05,289.77 L435.85,289.79 L436.65,289.80 L437.45,289.81 L438.25,289.82 L439.05,289.83 L439.85,289.84 L440.65,289.84 L441.46,289.85 L442.26,289.86 L443.06,289.86 L443.86,289.87 L444.66,289.87 L445.46,289.87 L446.26,289.88 L447.06,289.88 L447.50,289.88" fill="none" stroke="#111" stroke-width="1.8" stroke-dasharray="2.5,3.55"/>
<path d="M36.50,202.57 L37.30,203.12 L38.10,203.66 L38.90,204.20 L39.70,204.75 L40.50,205.30 L41.30,205.84 L42.10,206.39 L42.90,206.94 L43.70,207.49 L44.50,208.04 L45.30,208.59 L46.10,209.14 L46.90,209.70 L47.70,210.25 L48.50,210.80 L49.30,211.36 L50.11,211.91 L50.91,212.47 L51.71,213.03 L52.51,213.59 L53.31,214.15 L54.11,214.71 L54.91,215.27 L55.71,215.84 L56.51,216.40 L57.31,216.97 L58.11,217.53 L58.91,218.10 L59.71,218.66 L60.51,219.23 L61.31,219.80 L62.11,220.36 L62.91,220.93 L63.71,221.49 L64.51,222.06 L65.31,222.62 L66.11,223.18 L66.91,223.74 L67.71,224.30 L68.51,224.86 L69.31,225.42 L70.11,225.98 L70.91,226.54 L71.71,227.09 L72.51,227.65 L73.31,228.21 L74.11,228.77 L74.91,229.33 L75.72,229.89 L76.52,230.45 L77.32,231.02 L78.12,231.59 L78.92,232.16 L79.72,232.73 L80.52,233.31 L81.32,233.89 L82.12,234.48 L82.92,235.07 L83.72,235.66 L84.52,236.26 L85.32,236.86 L86.12,237.46 L86.92,238.06 L87.72,238.66 L88.52,239.27 L89.32,239.88 L90.12,240.49 L90.92,241.09 L91.72,241.70 L92.52,242.31 L93.32,242.92 L94.12,243.52 L94.92,244.12 L95.72,244.71 L96.52,245.30 L97.32,245.89 L98.12,246.48 L98.92,247.08 L99.72,247.68 L100.52,248.30 L101.32,248.93 L102.13,249.58 L102.93,250.24 L103.73,250.95 L104.53,251.71 L105.33,252.50 L106.13,253.30 L106.93,254.10 L107.73,254.86 L108.53,255.57 L109.33,256.22 L110.13,256.80 L110.93,257.35 L111.73,257.87 L112.53,258.36 L113.33,258.84 L114.13,259.32 L114.93,259.79 L115.73,260.28 L116.53,260.76 L117.33,261.24 L118.13,261.72 L118.93,262.20 L119.73,262.67 L120.53,263.13 L121.33,263.58 L122.13,264.02 L122.93,264.44 L123.73,264.84 L124.53,265.23 L125.33,265.59 L126.13,265.95 L126.93,266.29 L127.73,266.63 L128.54,266.95 L129.34,267.27 L130.14,267.58 L130.94,267.88 L131.74,268.18 L132.54,268.47 L133.34,268.76 L134.14,269.05 L134.94,269.34 L135.74,269.63 L136.54,269.93 L137.34,270.22 L138.14,270.52 L138.94,270.82 L139.74,271.13 L140.54,271.44 L141.34,271.76 L142.14,272.09 L142.94,272.41 L143.74,272.74 L144.54,273.07 L145.34,273.39 L146.14,273.72 L146.94,274.05 L147.74,274.38 L148.54,274.70 L149.34,275.02 L150.14,275.34 L150.94,275.65 L151.74,275.96 L152.54,276.26 L153.34,276.55 L154.15,276.84 L154.95,277.12 L155.75,277.40 L156.55,277.68 L157.35,277.96 L158.15,278.23 L158.95,278.51 L159.75,278.79 L160.55,279.06 L161.35,279.33 L162.15,279.60 L162.95,279.86 L163.75,280.11 L164.55,280.35 L165.35,280.59 L166.15,280.82 L166.95,281.03 L167.75,281.24 L168.55,281.43 L169.35,281.61 L170.15,281.77 L170.95,281.93 L171.75,282.07 L172.55,282.21 L173.35,282.34 L174.15,282.47 L174.95,282.59 L175.75,282.71 L176.55,282.82 L177.35,282.93 L178.15,283.04 L178.95,283.14 L179.75,283.25 L180.56,283.35 L181.36,283.45 L182.16,283.55 L182.96,283.66 L183.76,283.76 L184.56,283.87 L185.36,283.98 L186.16,284.09 L186.96,284.21 L187.76,284.32 L188.56,284.44 L189.36,284.55 L190.16,284.67 L190.96,284.79 L191.76,284.90 L192.56,285.02 L193.36,285.13 L194.16,285.24 L194.96,285.35 L195.76,285.45 L196.56,285.55 L197.36,285.65 L198.16,285.74 L198.96,285.83 L199.76,285.91 L200.56,285.99 L201.36,286.06 L202.16,286.14 L202.96,286.21 L203.76,286.27 L204.56,286.34 L205.36,286.40 L206.17,286.46 L206.97,286.52 L207.77,286.58 L208.57,286.64 L209.37,286.69 L210.17,286.75 L210.97,286.80 L211.77,286.85 L212.57,286.90 L213.37,286.95 L214.17,287.00 L214.97,287.04 L215.77,287.09 L216.57,287.13 L217.37,287.18 L218.17,287.22 L218.97,287.26 L219.77,287.31 L220.57,287.35 L221.37,287.39 L222.17,287.43 L222.97,287.47 L223.77,287.51 L224.57,287.55 L225.37,287.59 L226.17,287.63 L226.97,287.66 L227.77,287.70 L228.57,287.73 L229.37,287.77 L230.17,287.80 L230.97,287.83 L231.77,287.86 L232.58,287.89 L233.38,287.92 L234.18,287.94 L234.98,287.97 L235.78,288.00 L236.58,288.02 L237.38,288.04 L238.18,288.06 L238.98,288.09 L239.78,288.11 L240.58,288.13 L241.38,288.15 L242.18,288.18 L242.98,288.20 L243.78,288.22 L244.58,288.24 L245.38,288.26 L246.18,288.28 L246.98,288.31 L247.78,288.33 L248.58,288.35 L249.38,288.37 L250.18,288.39 L250.98,288.41 L251.78,288.43 L252.58,288.44 L253.38,288.46 L254.18,288.48 L254.98,288.50 L255.78,288.52 L256.58,288.54 L257.38,288.55 L258.18,288.57 L258.99,288.59 L259.79,288.61 L260.59,288.62 L261.39,288.64 L262.19,288.65 L262.99,288.67 L263.79,288.68 L264.59,288.70 L265.39,288.71 L266.19,288.73 L266.99,288.74 L267.79,288.75 L268.59,288.77 L269.39,288.78 L270.19,288.79 L270.99,288.81 L271.79,288.82 L272.59,288.83 L273.39,288.84 L274.19,288.85 L274.99,288.86 L275.79,288.87 L276.59,288.88 L277.39,288.89 L278.19,288.90 L278.99,288.91 L279.79,288.91 L280.59,288.92 L281.39,288.93 L282.19,288.93 L282.99,288.94 L283.79,288.95 L284.60,288.95 L285.40,288.96 L286.20,288.96 L287.00,288.97 L287.80,288.97 L288.60,288.98 L289.40,288.99 L290.20,288.99 L291.00,289.00 L291.80,289.00 L292.60,289.01 L293.40,289.01 L294.20,289.02 L295.00,289.02 L295.80,289.03 L296.60,289.04 L297.40,289.04 L298.20,289.05 L299.00,289.05 L299.80,289.06 L300.60,289.06 L301.40,289.07 L302.20,289.07 L303.00,289.08 L303.80,289.08 L304.60,289.09 L305.40,289.09 L306.20,289.10 L307.00,289.10 L307.80,289.11 L308.60,289.11 L309.40,289.12 L310.20,289.12 L311.01,289.13 L311.81,289.13 L312.61,289.14 L313.41,289.14 L314.21,289.15 L315.01,289.15 L315.81,289.16 L316.61,289.16 L317.41,289.17 L318.21,289.17 L319.01,289.18 L319.81,289.18 L320.61,289.19 L321.41,289.19 L322.21,289.20 L323.01,289.20 L323.81,289.20 L324.61,289.21 L325.41,289.21 L326.21,289.22 L327.01,289.22 L327.81,289.23 L328.61,289.23 L329.41,289.24 L330.21,289.24 L331.01,289.24 L331.81,289.25 L332.61,289.25 L333.41,289.26 L334.21,289.26 L335.01,289.27 L335.81,289.27 L336.62,289.27 L337.42,289.28 L338.22,289.28 L339.02,289.29 L339.82,289.29 L340.62,289.29 L341.42,289.30 L342.22,289.30 L343.02,289.31 L343.82,289.31 L344.62,289.31 L345.42,289.32 L346.22,289.32 L347.02,289.32 L347.82,289.33 L348.62,289.33 L349.42,289.34 L350.22,289.34 L351.02,289.34 L351.82,289.35 L352.62,289.35 L353.42,289.35 L354.22,289.36 L355.02,289.36 L355.82,289.36 L356.62,289.37 L357.42,289.37 L358.22,289.37 L359.02,289.38 L359.82,289.38 L360.62,289.38 L361.42,289.39 L362.22,289.39 L363.03,289.39 L363.83,289.40 L364.63,289.40 L365.43,289.40 L366.23,289.41 L367.03,289.41 L367.83,289.41 L368.63,289.42 L369.43,289.42 L370.23,289.42 L371.03,289.42 L371.83,289.43 L372.63,289.43 L373.43,289.43 L374.23,289.44 L375.03,289.44 L375.83,289.44 L376.63,289.44 L377.43,289.45 L378.23,289.45 L379.03,289.45 L379.83,289.45 L380.63,289.46 L381.43,289.46 L382.23,289.46 L383.03,289.46 L383.83,289.47 L384.63,289.47 L385.43,289.47 L386.23,289.47 L387.03,289.48 L387.83,289.48 L388.63,289.48 L389.44,289.48 L390.24,289.49 L391.04,289.49 L391.84,289.49 L392.64,289.49 L393.44,289.49 L394.24,289.50 L395.04,289.50 L395.84,289.50 L396.64,289.50 L397.44,289.50 L398.24,289.51 L399.04,289.51 L399.84,289.51 L400.64,289.51 L401.44,289.51 L402.24,289.51 L403.04,289.52 L403.84,289.52 L404.64,289.52 L405.44,289.52 L406.24,289.52 L407.04,289.52 L407.84,289.53 L408.64,289.53 L409.44,289.53 L410.24,289.53 L411.04,289.53 L411.84,289.53 L412.64,289.53 L413.44,289.54 L414.24,289.54 L415.05,289.54 L415.85,289.54 L416.65,289.54 L417.45,289.54 L418.25,289.54 L419.05,289.54 L419.85,289.55 L420.65,289.55 L421.45,289.55 L422.25,289.55 L423.05,289.55 L423.85,289.55 L424.65,289.55 L425.45,289.55 L426.25,289.55 L427.05,289.55 L427.85,289.56 L428.65,289.56 L429.45,289.56 L430.25,289.56 L431.05,289.56 L431.85,289.56 L432.65,289.56 L433.45,289.56 L434.25,289.56 L435.05,289.56 L435.85,289.56 L436.65,289.56 L437.45,289.56 L438.25,289.56 L439.05,289.56 L439.85,289.56 L440.65,289.56 L441.46,289.56 L442.26,289.56 L443.06,289.56 L443.86,289.56 L444.66,289.56 L445.46,289.56 L446.26,289.56 L447.06,289.56 L447.50,289.56" fill="none" stroke="#111" stroke-width="1.4" stroke-dasharray="4.6,2.3,1.2,2.8"/>
<path d="M36.50,259.32 L37.30,259.27 L38.10,259.22 L38.90,259.18 L39.70,259.13 L40.50,259.09 L41.30,259.04 L42.10,259.00 L42.90,258.95 L43.70,258.91 L44.50,258.87 L45.30,258.83 L46.10,258.79 L46.90,258.75 L47.70,258.71 L48.50,258.67 L49.30,258.63 L50.11,258.60 L50.91,258.56 L51.71,258.53 L52.51,258.49 L53.31,258.46 L54.11,258.42 L54.91,258.39 L55.71,258.36 L56.51,258.33 L57.31,258.30 L58.11,258.27 L58.91,258.25 L59.71,258.22 L60.51,258.19 L61.31,258.17 L62.11,258.14 L62.91,258.12 L63.71,258.10 L64.51,258.08 L65.31,258.06 L66.11,258.04 L66.91,258.01 L67.71,257.99 L68.51,257.97 L69.31,257.95 L70.11,257.93 L70.91,257.91 L71.71,257.89 L72.51,257.87 L73.31,257.86 L74.11,257.84 L74.91,257.82 L75.72,257.81 L76.52,257.80 L77.32,257.79 L78.12,257.78 L78.92,257.77 L79.72,257.76 L80.52,257.76 L81.32,257.76 L82.12,257.76 L82.92,257.77 L83.72,257.78 L84.52,257.80 L85.32,257.82 L86.12,257.84 L86.92,257.87 L87.72,257.90 L88.52,257.93 L89.32,257.96 L90.12,258.00 L90.92,258.04 L91.72,258.09 L92.52,258.13 L93.32,258.18 L94.12,258.22 L94.92,258.27 L95.72,258.33 L96.52,258.38 L97.32,258.44 L98.12,258.52 L98.92,258.61 L99.72,258.72 L100.52,258.84 L101.32,258.97 L102.13,259.10 L102.93,259.24 L103.73,259.39 L104.53,259.53 L105.33,259.67 L106.13,259.81 L106.93,259.94 L107.73,260.06 L108.53,260.19 L109.33,260.31 L110.13,260.43 L110.93,260.55 L111.73,260.68 L112.53,260.81 L113.33,260.95 L114.13,261.09 L114.93,261.25 L115.73,261.42 L116.53,261.60 L117.33,261.81 L118.13,262.03 L118.93,262.27 L119.73,262.51 L120.53,262.76 L121.33,263.02 L122.13,263.27 L122.93,263.52 L123.73,263.76 L124.53,263.99 L125.33,264.21 L126.13,264.42 L126.93,264.64 L127.73,264.85 L128.54,265.06 L129.34,265.27 L130.14,265.47 L130.94,265.68 L131.74,265.89 L132.54,266.09 L133.34,266.30 L134.14,266.51 L134.94,266.71 L135.74,266.93 L136.54,267.14 L137.34,267.35 L138.14,267.57 L138.94,267.80 L139.74,268.02 L140.54,268.25 L141.34,268.49 L142.14,268.73 L142.94,268.97 L143.74,269.21 L144.54,269.46 L145.34,269.71 L146.14,269.96 L146.94,270.22 L147.74,270.47 L148.54,270.73 L149.34,270.98 L150.14,271.24 L150.94,271.49 L151.74,271.75 L152.54,272.00 L153.34,272.25 L154.15,272.50 L154.95,272.75 L155.75,273.00 L156.55,273.25 L157.35,273.50 L158.15,273.75 L158.95,274.01 L159.75,274.26 L160.55,274.51 L161.35,274.77 L162.15,275.02 L162.95,275.27 L163.75,275.52 L164.55,275.77 L165.35,276.01 L166.15,276.25 L166.95,276.49 L167.75,276.73 L168.55,276.96 L169.35,277.19 L170.15,277.41 L170.95,277.63 L171.75,277.85 L172.55,278.07 L173.35,278.29 L174.15,278.51 L174.95,278.72 L175.75,278.94 L176.55,279.15 L177.35,279.36 L178.15,279.57 L178.95,279.77 L179.75,279.97 L180.56,280.16 L181.36,280.35 L182.16,280.53 L182.96,280.70 L183.76,280.87 L184.56,281.03 L185.36,281.18 L186.16,281.33 L186.96,281.47 L187.76,281.60 L188.56,281.73 L189.36,281.85 L190.16,281.98 L190.96,282.09 L191.76,282.21 L192.56,282.32 L193.36,282.44 L194.16,282.55 L194.96,282.66 L195.76,282.78 L196.56,282.90 L197.36,283.01 L198.16,283.14 L198.96,283.26 L199.76,283.39 L200.56,283.51 L201.36,283.64 L202.16,283.77 L202.96,283.89 L203.76,284.01 L204.56,284.13 L205.36,284.25 L206.17,284.36 L206.97,284.46 L207.77,284.56 L208.57,284.64 L209.37,284.73 L210.17,284.82 L210.97,284.90 L211.77,284.98 L212.57,285.06 L213.37,285.14 L214.17,285.21 L214.97,285.29 L215.77,285.36 L216.57,285.43 L217.37,285.50 L218.17,285.57 L218.97,285.64 L219.77,285.70 L220.57,285.77 L221.37,285.83 L222.17,285.89 L222.97,285.96 L223.77,286.02 L224.57,286.08 L225.37,286.14 L226.17,286.20 L226.97,286.26 L227.77,286.32 L228.57,286.37 L229.37,286.43 L230.17,286.49 L230.97,286.55 L231.77,286.61 L232.58,286.67 L233.38,286.73 L234.18,286.80 L234.98,286.86 L235.78,286.92 L236.58,286.98 L237.38,287.04 L238.18,287.11 L238.98,287.17 L239.78,287.23 L240.58,287.29 L241.38,287.35 L242.18,287.41 L242.98,287.47 L243.78,287.53 L244.58,287.58 L245.38,287.64 L246.18,287.69 L246.98,287.75 L247.78,287.80 L248.58,287.85 L249.38,287.90 L250.18,287.94 L250.98,287.99 L251.78,288.03 L252.58,288.07 L253.38,288.11 L254.18,288.14 L254.98,288.18 L255.78,288.21 L256.58,288.24 L257.38,288.26 L258.18,288.28 L258.99,288.30 L259.79,288.32 L260.59,288.34 L261.39,288.35 L262.19,288.37 L262.99,288.38 L263.79,288.40 L264.59,288.41 L265.39,288.42 L266.19,288.44 L266.99,288.45 L267.79,288.47 L268.59,288.48 L269.39,288.49 L270.19,288.51 L270.99,288.52 L271.79,288.53 L272.59,288.54 L273.39,288.55 L274.19,288.57 L274.99,288.58 L275.79,288.59 L276.59,288.60 L277.39,288.61 L278.19,288.62 L278.99,288.63 L279.79,288.65 L280.59,288.66 L281.39,288.67 L282.19,288.68 L282.99,288.69 L283.79,288.70 L284.60,288.71 L285.40,288.72 L286.20,288.72 L287.00,288.73 L287.80,288.74 L288.60,288.75 L289.40,288.76 L290.20,288.77 L291.00,288.78 L291.80,288.79 L292.60,288.79 L293.40,288.80 L294.20,288.81 L295.00,288.82 L295.80,288.83 L296.60,288.83 L297.40,288.84 L298.20,288.85 L299.00,288.86 L299.80,288.86 L300.60,288.87 L301.40,288.88 L302.20,288.89 L303.00,288.89 L303.80,288.90 L304.60,288.91 L305.40,288.91 L306.20,288.92 L307.00,288.93 L307.80,288.93 L308.60,288.94 L309.40,288.94 L310.20,288.95 L311.01,288.96 L311.81,288.96 L312.61,288.97 L313.41,288.97 L314.21,288.98 L315.01,288.99 L315.81,288.99 L316.61,289.00 L317.41,289.00 L318.21,289.01 L319.01,289.01 L319.81,289.02 L320.61,289.02 L321.41,289.03 L322.21,289.04 L323.01,289.04 L323.81,289.05 L324.61,289.05 L325.41,289.06 L326.21,289.06 L327.01,289.07 L327.81,289.07 L328.61,289.08 L329.41,289.08 L330.21,289.09 L331.01,289.09 L331.81,289.10 L332.61,289.10 L333.41,289.11 L334.21,289.11 L335.01,289.12 L335.81,289.13 L336.62,289.13 L337.42,289.14 L338.22,289.14 L339.02,289.15 L339.82,289.15 L340.62,289.16 L341.42,289.16 L342.22,289.17 L343.02,289.17 L343.82,289.18 L344.62,289.19 L345.42,289.19 L346.22,289.20 L347.02,289.20 L347.82,289.21 L348.62,289.21 L349.42,289.22 L350.22,289.23 L351.02,289.23 L351.82,289.24 L352.62,289.25 L353.42,289.25 L354.22,289.26 L355.02,289.26 L355.82,289.27 L356.62,289.28 L357.42,289.28 L358.22,289.29 L359.02,289.30 L359.82,289.30 L360.62,289.31 L361.42,289.31 L362.22,289.32 L363.03,289.33 L363.83,289.33 L364.63,289.34 L365.43,289.35 L366.23,289.35 L367.03,289.36 L367.83,289.36 L368.63,289.37 L369.43,289.38 L370.23,289.38 L371.03,289.39 L371.83,289.39 L372.63,289.40 L373.43,289.41 L374.23,289.41 L375.03,289.42 L375.83,289.42 L376.63,289.43 L377.43,289.44 L378.23,289.44 L379.03,289.45 L379.83,289.45 L380.63,289.46 L381.43,289.47 L382.23,289.47 L383.03,289.48 L383.83,289.48 L384.63,289.49 L385.43,289.49 L386.23,289.50 L387.03,289.51 L387.83,289.51 L388.63,289.52 L389.44,289.52 L390.24,289.53 L391.04,289.53 L391.84,289.54 L392.64,289.55 L393.44,289.55 L394.24,289.56 L395.04,289.56 L395.84,289.57 L396.64,289.57 L397.44,289.58 L398.24,289.58 L399.04,289.59 L399.84,289.60 L400.64,289.60 L401.44,289.61 L402.24,289.61 L403.04,289.62 L403.84,289.62 L404.64,289.63 L405.44,289.63 L406.24,289.64 L407.04,289.64 L407.84,289.65 L408.64,289.65 L409.44,289.66 L410.24,289.66 L411.04,289.67 L411.84,289.67 L412.64,289.68 L413.44,289.68 L414.24,289.69 L415.05,289.69 L415.85,289.70 L416.65,289.70 L417.45,289.71 L418.25,289.71 L419.05,289.72 L419.85,289.72 L420.65,289.73 L421.45,289.73 L422.25,289.74 L423.05,289.74 L423.85,289.75 L424.65,289.75 L425.45,289.76 L426.25,289.76 L427.05,289.77 L427.85,289.77 L428.65,289.78 L429.45,289.78 L430.25,289.78 L431.05,289.79 L431.85,289.79 L432.65,289.80 L433.45,289.80 L434.25,289.81 L435.05,289.81 L435.85,289.82 L436.65,289.82 L437.45,289.82 L438.25,289.83 L439.05,289.83 L439.85,289.84 L440.65,289.84 L441.46,289.85 L442.26,289.85 L443.06,289.85 L443.86,289.86 L444.66,289.86 L445.46,289.87 L446.26,289.87 L447.06,289.87 L447.50,289.88" fill="none" stroke="#e4ac40" stroke-width="1.8"/>
<path d="M36.50,207.87 L37.30,209.40 L38.10,210.90 L38.90,212.38 L39.70,213.84 L40.50,215.29 L41.30,216.75 L42.10,218.19 L42.90,219.57 L43.70,220.85 L44.50,222.02 L45.30,223.11 L46.10,224.15 L46.90,225.17 L47.70,226.19 L48.50,227.24 L49.30,228.27 L50.11,229.29 L50.91,230.33 L51.71,231.43 L52.51,232.60 L53.31,233.91 L54.11,235.32 L54.91,236.77 L55.71,238.24 L56.51,239.66 L57.31,241.00 L58.11,242.20 L58.91,243.32 L59.71,244.38 L60.51,245.40 L61.31,246.38 L62.11,247.35 L62.91,248.31 L63.71,249.27 L64.51,250.25 L65.31,251.22 L66.11,252.19 L66.91,253.16 L67.71,254.11 L68.51,255.04 L69.31,255.95 L70.11,256.82 L70.91,257.66 L71.71,258.46 L72.51,259.21 L73.31,259.92 L74.11,260.61 L74.91,261.27 L75.72,261.91 L76.52,262.53 L77.32,263.15 L78.12,263.76 L78.92,264.37 L79.72,265.00 L80.52,265.63 L81.32,266.29 L82.12,266.96 L82.92,267.63 L83.72,268.31 L84.52,268.98 L85.32,269.63 L86.12,270.27 L86.92,270.89 L87.72,271.48 L88.52,272.03 L89.32,272.55 L90.12,273.05 L90.92,273.55 L91.72,274.03 L92.52,274.50 L93.32,274.95 L94.12,275.38 L94.92,275.79 L95.72,276.17 L96.52,276.54 L97.32,276.88 L98.12,277.20 L98.92,277.52 L99.72,277.82 L100.52,278.12 L101.32,278.40 L102.13,278.66 L102.93,278.91 L103.73,279.14 L104.53,279.35 L105.33,279.54 L106.13,279.71 L106.93,279.86 L107.73,280.01 L108.53,280.14 L109.33,280.27 L110.13,280.39 L110.93,280.50 L111.73,280.62 L112.53,280.73 L113.33,280.84 L114.13,280.95 L114.93,281.07 L115.73,281.20 L116.53,281.33 L117.33,281.46 L118.13,281.61 L118.93,281.75 L119.73,281.90 L120.53,282.04 L121.33,282.18 L122.13,282.32 L122.93,282.45 L123.73,282.58 L124.53,282.69 L125.33,282.80 L126.13,282.89 L126.93,282.96 L127.73,283.02 L128.54,283.08 L129.34,283.13 L130.14,283.18 L130.94,283.22 L131.74,283.26 L132.54,283.30 L133.34,283.34 L134.14,283.38 L134.94,283.41 L135.74,283.45 L136.54,283.48 L137.34,283.50 L138.14,283.53 L138.94,283.56 L139.74,283.58 L140.54,283.60 L141.34,283.62 L142.14,283.64 L142.94,283.66 L143.74,283.67 L144.54,283.69 L145.34,283.71 L146.14,283.72 L146.94,283.74 L147.74,283.75 L148.54,283.77 L149.34,283.78 L150.14,283.80 L150.94,283.81 L151.74,283.83 L152.54,283.84 L153.34,283.85 L154.15,283.87 L154.95,283.88 L155.75,283.89 L156.55,283.90 L157.35,283.91 L158.15,283.93 L158.95,283.94 L159.75,283.95 L160.55,283.96 L161.35,283.97 L162.15,283.98 L162.95,283.99 L163.75,284.00 L164.55,284.01 L165.35,284.02 L166.15,284.03 L166.95,284.04 L167.75,284.05 L168.55,284.05 L169.35,284.06 L170.15,284.07 L170.95,284.08 L171.75,284.09 L172.55,284.10 L173.35,284.11 L174.15,284.11 L174.95,284.12 L175.75,284.13 L176.55,284.14 L177.35,284.15 L178.15,284.15 L178.95,284.16 L179.75,284.17 L180.56,284.18 L181.36,284.19 L182.16,284.19 L182.96,284.20 L183.76,284.21 L184.56,284.22 L185.36,284.22 L186.16,284.23 L186.96,284.24 L187.76,284.25 L188.56,284.26 L189.36,284.27 L190.16,284.27 L190.96,284.28 L191.76,284.29 L192.56,284.30 L193.36,284.31 L194.16,284.32 L194.96,284.33 L195.76,284.34 L196.56,284.35 L197.36,284.36 L198.16,284.37 L198.96,284.38 L199.76,284.39 L200.56,284.40 L201.36,284.41 L202.16,284.41 L202.96,284.42 L203.76,284.43 L204.56,284.44 L205.36,284.45 L206.17,284.46 L206.97,284.47 L207.77,284.48 L208.57,284.48 L209.37,284.49 L210.17,284.50 L210.97,284.51 L211.77,284.51 L212.57,284.52 L213.37,284.53 L214.17,284.53 L214.97,284.54 L215.77,284.55 L216.57,284.55 L217.37,284.56 L218.17,284.56 L218.97,284.56 L219.77,284.57 L220.57,284.57 L221.37,284.57 L222.17,284.57 L222.97,284.57 L223.77,284.58 L224.57,284.58 L225.37,284.58 L226.17,284.58 L226.97,284.58 L227.77,284.58 L228.57,284.58 L229.37,284.58 L230.17,284.58 L230.97,284.58 L231.77,284.58 L232.58,284.58 L233.38,284.58 L234.18,284.58 L234.98,284.58 L235.78,284.58 L236.58,284.58 L237.38,284.58 L238.18,284.58 L238.98,284.58 L239.78,284.58 L240.58,284.58 L241.38,284.58 L242.18,284.58 L242.98,284.58 L243.78,284.58 L244.58,284.58 L245.38,284.58 L246.18,284.58 L246.98,284.58 L247.78,284.58 L248.58,284.58 L249.38,284.58 L250.18,284.57 L250.98,284.56 L251.78,284.54 L252.58,284.51 L253.38,284.48 L254.18,284.44 L254.98,284.39 L255.78,284.33 L256.58,284.27 L257.38,284.20 L258.18,284.13 L258.99,284.05 L259.79,283.97 L260.59,283.89 L261.39,283.80 L262.19,283.71 L262.99,283.61 L263.79,283.51 L264.59,283.41 L265.39,283.31 L266.19,283.20 L266.99,283.10 L267.79,282.99 L268.59,282.89 L269.39,282.78 L270.19,282.67 L270.99,282.57 L271.79,282.47 L272.59,282.36 L273.39,282.26 L274.19,282.16 L274.99,282.07 L275.79,281.97 L276.59,281.86 L277.39,281.75 L278.19,281.63 L278.99,281.51 L279.79,281.38 L280.59,281.26 L281.39,281.13 L282.19,281.00 L282.99,280.87 L283.79,280.74 L284.60,280.62 L285.40,280.50 L286.20,280.38 L287.00,280.27 L287.80,280.16 L288.60,280.06 L289.40,279.97 L290.20,279.89 L291.00,279.82 L291.80,279.74 L292.60,279.66 L293.40,279.58 L294.20,279.50 L295.00,279.42 L295.80,279.35 L296.60,279.27 L297.40,279.20 L298.20,279.13 L299.00,279.06 L299.80,279.00 L300.60,278.94 L301.40,278.88 L302.20,278.83 L303.00,278.79 L303.80,278.75 L304.60,278.71 L305.40,278.69 L306.20,278.67 L307.00,278.66 L307.80,278.65 L308.60,278.66 L309.40,278.66 L310.20,278.68 L311.01,278.70 L311.81,278.73 L312.61,278.76 L313.41,278.79 L314.21,278.83 L315.01,278.87 L315.81,278.92 L316.61,278.97 L317.41,279.02 L318.21,279.07 L319.01,279.12 L319.81,279.18 L320.61,279.24 L321.41,279.30 L322.21,279.36 L323.01,279.42 L323.81,279.47 L324.61,279.53 L325.41,279.59 L326.21,279.65 L327.01,279.72 L327.81,279.79 L328.61,279.87 L329.41,279.96 L330.21,280.04 L331.01,280.14 L331.81,280.23 L332.61,280.33 L333.41,280.43 L334.21,280.53 L335.01,280.63 L335.81,280.72 L336.62,280.82 L337.42,280.91 L338.22,281.01 L339.02,281.10 L339.82,281.18 L340.62,281.26 L341.42,281.33 L342.22,281.40 L343.02,281.46 L343.82,281.52 L344.62,281.58 L345.42,281.63 L346.22,281.69 L347.02,281.75 L347.82,281.81 L348.62,281.87 L349.42,281.92 L350.22,281.98 L351.02,282.03 L351.82,282.08 L352.62,282.13 L353.42,282.18 L354.22,282.22 L355.02,282.26 L355.82,282.29 L356.62,282.32 L357.42,282.35 L358.22,282.37 L359.02,282.38 L359.82,282.39 L360.62,282.39 L361.42,282.38 L362.22,282.35 L363.03,282.30 L363.83,282.24 L364.63,282.16 L365.43,282.06 L366.23,281.96 L367.03,281.85 L367.83,281.73 L368.63,281.60 L369.43,281.47 L370.23,281.34 L371.03,281.21 L371.83,281.07 L372.63,280.95 L373.43,280.82 L374.23,280.71 L375.03,280.60 L375.83,280.50 L376.63,280.40 L377.43,280.29 L378.23,280.18 L379.03,280.06 L379.83,279.94 L380.63,279.82 L381.43,279.70 L382.23,279.58 L383.03,279.46 L383.83,279.35 L384.63,279.24 L385.43,279.13 L386.23,279.03 L387.03,278.94 L387.83,278.86 L388.63,278.80 L389.44,278.74 L390.24,278.70 L391.04,278.67 L391.84,278.65 L392.64,278.66 L393.44,278.69 L394.24,278.76 L395.04,278.85 L395.84,278.96 L396.64,279.09 L397.44,279.24 L398.24,279.41 L399.04,279.59 L399.84,279.78 L400.64,279.98 L401.44,280.19 L402.24,280.41 L403.04,280.62 L403.84,280.84 L404.64,281.06 L405.44,281.27 L406.24,281.48 L407.04,281.70 L407.84,281.94 L408.64,282.21 L409.44,282.49 L410.24,282.79 L411.04,283.11 L411.84,283.43 L412.64,283.76 L413.44,284.09 L414.24,284.42 L415.05,284.74 L415.85,285.06 L416.65,285.37 L417.45,285.66 L418.25,285.94 L419.05,286.19 L419.85,286.43 L420.65,286.63 L421.45,286.81 L422.25,286.98 L423.05,287.15 L423.85,287.32 L424.65,287.48 L425.45,287.63 L426.25,287.78 L427.05,287.91 L427.85,288.03 L428.65,288.13 L429.45,288.21 L430.25,288.28 L431.05,288.32 L431.85,288.35 L432.65,288.37 L433.45,288.40 L434.25,288.42 L435.05,288.45 L435.85,288.47 L436.65,288.49 L437.45,288.51 L438.25,288.53 L439.05,288.54 L439.85,288.56 L440.65,288.57 L441.46,288.58 L442.26,288.60 L443.06,288.60 L443.86,288.61 L444.66,288.62 L445.46,288.62 L446.26,288.63 L447.06,288.63 L447.50,288.63" fill="none" stroke="#d42525" stroke-width="1.7"/>
<g stroke="#484848" stroke-width="1.2"><line x1="36.50" y1="165.78" x2="36.50" y2="294.00"/>
<line x1="33.00" y1="290.50" x2="447.50" y2="290.50"/>
<line x1="32.90" y1="290.50" x2="36.50" y2="290.50"/>
<line x1="34.70" y1="274.91" x2="36.50" y2="274.91"/>
<line x1="32.90" y1="259.32" x2="36.50" y2="259.32"/>
<line x1="34.70" y1="243.73" x2="36.50" y2="243.73"/>
<line x1="32.90" y1="228.14" x2="36.50" y2="228.14"/>
<line x1="34.70" y1="212.55" x2="36.50" y2="212.55"/>
<line x1="32.90" y1="196.96" x2="36.50" y2="196.96"/>
<line x1="34.70" y1="181.37" x2="36.50" y2="181.37"/>
<line x1="32.90" y1="165.78" x2="36.50" y2="165.78"/>
<line x1="36.50" y1="290.50" x2="36.50" y2="294.10"/>
<line x1="65.86" y1="290.50" x2="65.86" y2="292.30"/>
<line x1="95.22" y1="290.50" x2="95.22" y2="294.10"/>
<line x1="124.57" y1="290.50" x2="124.57" y2="292.30"/>
<line x1="153.93" y1="290.50" x2="153.93" y2="294.10"/>
<line x1="183.29" y1="290.50" x2="183.29" y2="292.30"/>
<line x1="212.64" y1="290.50" x2="212.64" y2="294.10"/>
<line x1="242.00" y1="290.50" x2="242.00" y2="292.30"/>
<line x1="271.36" y1="290.50" x2="271.36" y2="294.10"/>
<line x1="300.72" y1="290.50" x2="300.72" y2="292.30"/>
<line x1="330.07" y1="290.50" x2="330.07" y2="294.10"/>
<line x1="359.43" y1="290.50" x2="359.43" y2="292.30"/>
<line x1="388.79" y1="290.50" x2="388.79" y2="294.10"/>
<line x1="418.15" y1="290.50" x2="418.15" y2="292.30"/>
<line x1="447.50" y1="290.50" x2="447.50" y2="294.10"/></g>
<g font-family="Liberation Sans, sans-serif" font-size="11.65" fill="#111">
<text x="29.00" y="138.30" text-anchor="end">0</text>
<text x="29.00" y="107.10" text-anchor="end">1</text>
<text x="29.00" y="75.90" text-anchor="end">2</text>
<text x="29.00" y="44.70" text-anchor="end">3</text>
<text x="29.00" y="13.50" text-anchor="end">4</text>
<text x="37.40" y="150.90" text-anchor="middle">425</text>
<text x="96.09" y="150.90" text-anchor="middle">450</text>
<text x="154.78" y="150.90" text-anchor="middle">475</text>
<text x="213.48" y="150.90" text-anchor="middle">500</text>
<text x="272.17" y="150.90" text-anchor="middle">525</text>
<text x="330.86" y="150.90" text-anchor="middle">550</text>
<text x="389.56" y="150.90" text-anchor="middle">575</text>
<text x="448.25" y="150.90" text-anchor="middle">600</text>
<text x="28.50" y="294.50" text-anchor="end">0</text>
<text x="28.50" y="263.32" text-anchor="end">1</text>
<text x="28.50" y="232.14" text-anchor="end">2</text>
<text x="28.50" y="200.96" text-anchor="end">3</text>
<text x="28.50" y="169.78" text-anchor="end">4</text>
<text x="36.90" y="307.40" text-anchor="middle">425</text>
<text x="95.62" y="307.40" text-anchor="middle">450</text>
<text x="154.33" y="307.40" text-anchor="middle">475</text>
<text x="213.04" y="307.40" text-anchor="middle">500</text>
<text x="271.76" y="307.40" text-anchor="middle">525</text>
<text x="330.47" y="307.40" text-anchor="middle">550</text>
<text x="389.19" y="307.40" text-anchor="middle">575</text>
<text x="447.90" y="307.40" text-anchor="middle">600</text>
</g>
<g font-family="Liberation Sans, sans-serif" font-size="14" font-weight="bold" fill="#111">
<text x="46.4" y="9.3" font-size="15.3">a</text>
<text x="47.0" y="170" font-size="14.8">b</text>
<text x="476.3" y="9.3" font-size="15.5">c</text>
</g>
<rect x="116.5" y="10.3" width="333" height="34.7" fill="#fff" stroke="#808080" stroke-width="0.85"/>
<g font-family="Liberation Sans, sans-serif" fill="#111">
<text x="124.6" y="22.7" font-size="11.6">‘Average’ neonatal skin</text>
<text x="156.4" y="36.4" font-size="10">Total skin absorption</text>
<text x="279.6" y="22.7" font-size="11.6">Standard phantom</text>
<text x="312.2" y="36.4" font-size="10">Total phantom absorption</text>
</g>
<line x1="124" y1="32.5" x2="150.4" y2="32.5" stroke="#f09393" stroke-width="1.2"/>
<line x1="279.7" y1="32.3" x2="305.9" y2="32.3" stroke="#111" stroke-width="1.4"/>
<rect x="127.5" y="165.2" width="322" height="59" fill="#fff" stroke="#808080" stroke-width="0.85"/>
<g font-family="Liberation Sans, sans-serif" fill="#111">
<text x="128.6" y="178.3" font-size="11.6">‘Average’ neonatal skin</text>
<text x="160.4" y="191.8" font-size="10">Bilirubin contribution</text>
<text x="160.4" y="205.9" font-size="10">Hemoglobin contribution</text>
<text x="160.4" y="220" font-size="10">(Melanin)</text>
<text x="289.6" y="178.3" font-size="11.6">Standard phantom</text>
<text x="322.7" y="191.8" font-size="10">Yellow dye contribution</text>
<text x="322.7" y="205.9" font-size="10">Magenta dye contribution</text>
</g>
<line x1="128" y1="188" x2="154.7" y2="188" stroke="#dcb055" stroke-width="1.4"/>
<line x1="128" y1="202.3" x2="154.7" y2="202.3" stroke="#d42525" stroke-width="1.6"/>
<line x1="128" y1="216.2" x2="154.7" y2="216.2" stroke="#6a6a6a" stroke-width="1.4"/>
<line x1="290.4" y1="188" x2="316.7" y2="188" stroke="#111" stroke-width="1.3" stroke-dasharray="4.8,2.2,1.1,2.8"/>
<line x1="290.4" y1="202.6" x2="316.7" y2="202.6" stroke="#111" stroke-width="1.3" stroke-dasharray="2.3,3.9"/>
<g font-family="Liberation Sans, sans-serif" font-size="11.5" fill="#111">
<text x="275.7" y="318.8" text-anchor="middle">Wavelength (nm)</text>
<text transform="translate(10.6,151.2) rotate(-90)" text-anchor="middle" font-size="11.7">Absorption coefficent <tspan font-style="italic">μ</tspan><tspan font-size="8" dy="2.5">a</tspan><tspan dy="-2.5"> (mm</tspan><tspan font-size="8" dy="-5">−1</tspan><tspan dy="5">)</tspan></text>
</g>
<rect x="476.2" y="212" width="315.8" height="28.3" fill="url(#skin)"/>
<line x1="476.2" y1="212.2" x2="792" y2="212.2" stroke="#b8a98a" stroke-width="0.7"/>
<path d="M550.2,9.3 H699.2 V140.7 a22,22 0 0 1 -22,22 H572.2 a22,22 0 0 1 -22,-22 Z" fill="#bdd6ee"/>
<path d="M577.6,162.7 V179.7 a4.5,4.5 0 0 0 4.5,4.5 H671 a4.5,4.5 0 0 0 4.5,-4.5 V162.7" fill="#f1f1f1" stroke="#3a3a3a" stroke-width="0.9"/>
<path d="M594.7,184.2 V206.6 a5.5,5.5 0 0 0 5.5,5.5 H652.7 a5.5,5.5 0 0 0 5.5,-5.5 V184.2" fill="#f1f1f1" stroke="#3a3a3a" stroke-width="0.9"/>
<path d="M609,221 V267 a19.6,19.6 0 0 0 39.2,0 V212.6" fill="none" stroke="#6c6c6c" stroke-width="8.5"/>
<path d="M609,221 V267 a19.6,19.6 0 0 0 39.2,0 V212.6" fill="none" stroke="#818181" stroke-width="7.1"/>
<path d="M601.7,221 L608.7,213.8 L615.7,221 Z" fill="#808080" stroke="#666" stroke-width="0.8"/>
<path d="M625.5,221 V242 a10.3,10.3 0 0 0 20.6,0 V212.6" fill="none" stroke="#a2a2a2" stroke-width="8.9"/>
<path d="M625.5,221 V242 a10.3,10.3 0 0 0 20.6,0 V212.6" fill="none" stroke="#c0c0c0" stroke-width="7.5"/>
<path d="M617.6,221 L625.4,213.8 L633.6,221 Z" fill="#bfbfbf" stroke="#9a9a9a" stroke-width="0.8"/>
<g font-family="Liberation Sans, sans-serif" font-size="11.65" fill="#111">
<text x="624.2" y="108.7" text-anchor="middle" font-size="12">JM-105</text>
<text x="539" y="222.8" text-anchor="middle">Epidermis</text>
<text x="538.7" y="235.4" text-anchor="middle">(melanin layer)</text>
<text x="533.9" y="264.1" text-anchor="middle">Dermis</text>
<text x="655.8" y="253.7">Short optical path</text>
<text x="655.8" y="271.7">Long optical path</text>
</g>
</svg>
</body></html>
